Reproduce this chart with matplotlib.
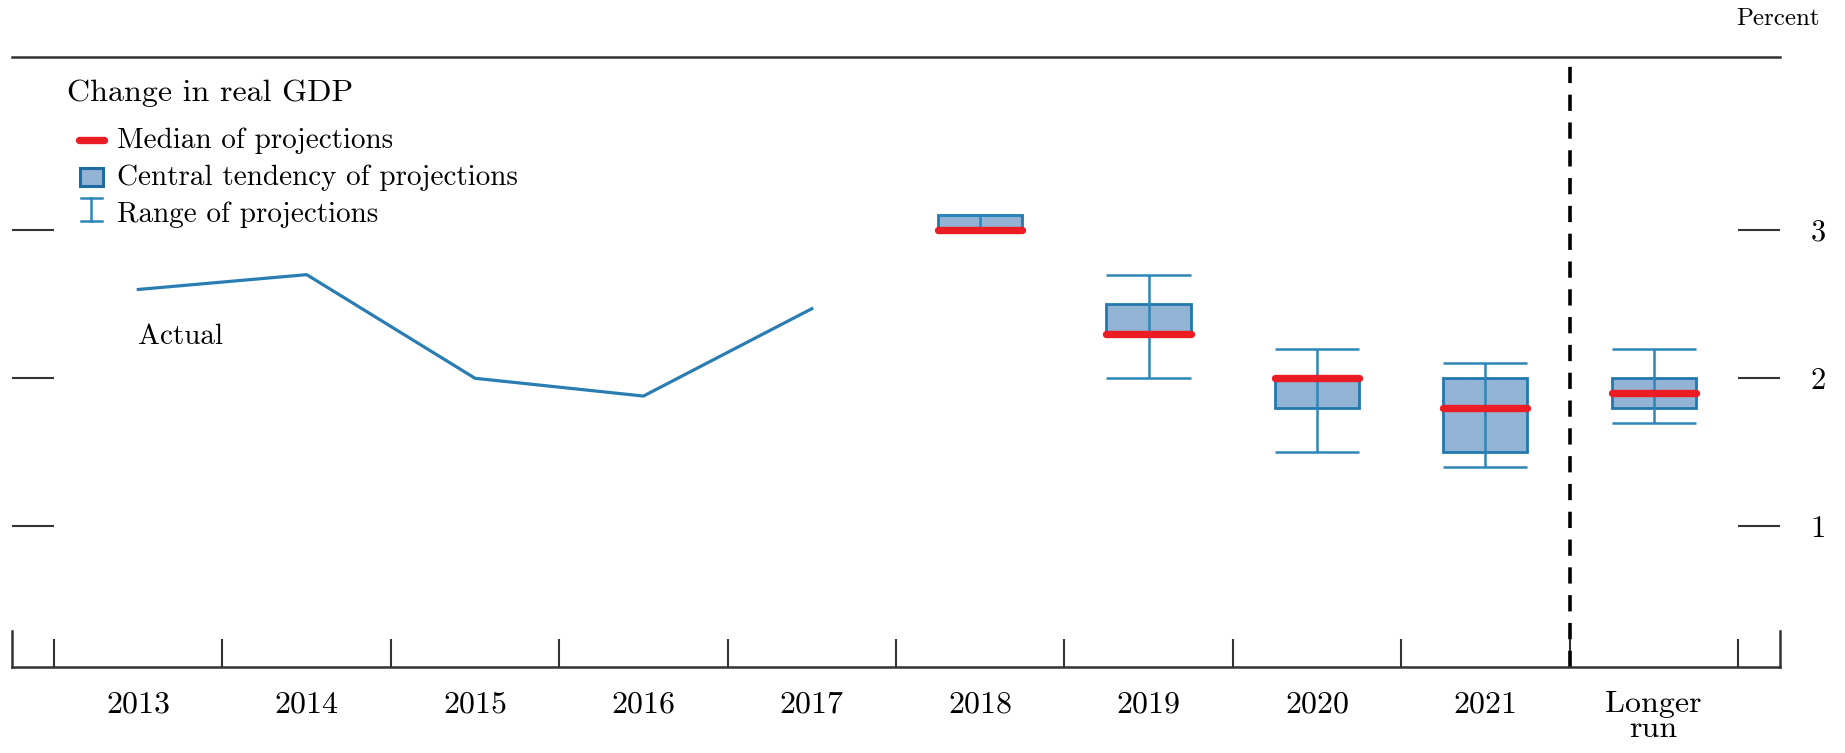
import numpy as np
import matplotlib
matplotlib.use('Agg')
import matplotlib.pyplot as plt
from matplotlib.patches import Rectangle
from matplotlib.lines import Line2D

# Computer Modern look (cmr10 ships with matplotlib)
plt.rcParams['font.family'] = ['cmr10', 'DejaVu Serif']
plt.rcParams['axes.formatter.use_mathtext'] = True

# Data
categories = ['2013', '2014', '2015', '2016', '2017', '2018', '2019', '2020', '2021', 'Longer\nrun']
actual_years = ['2013', '2014', '2015', '2016', '2017']
actual_values = [2.6, 2.7, 2.0, 1.88, 2.47]

proj_labels = ['2018', '2019', '2020', '2021', 'Longer\nrun']
median = [3.0, 2.3, 2.0, 1.8, 1.9]
central_low = [3.0, 2.3, 1.8, 1.5, 1.8]
central_high = [3.1, 2.5, 2.0, 2.0, 2.0]
range_low = [3.0, 2.0, 1.5, 1.4, 1.7]
range_high = [3.1, 2.7, 2.2, 2.1, 2.2]

ytick_values = [1, 2, 3]

# Colors
line_color = '#2a7db2'
box_fill = '#93b3d5'
box_edge = '#2378ae'
whisker_color = '#2a86bb'
median_color = '#ec1c24'
axis_color = '#333333'

W, H = 1845, 753
fig = plt.figure(figsize=(W / 100, H / 100), dpi=100)
ax_left, ax_right, ax_top, ax_bottom = 12, 1780, 57, 667
ax = fig.add_axes([ax_left / W, 1 - ax_bottom / H, (ax_right - ax_left) / W, (ax_bottom - ax_top) / H])

xpos = {c: i for i, c in enumerate(categories)}
box_w = 0.5

# Actual line
ax.plot([xpos[c] for c in actual_years], actual_values, color=line_color, lw=2.3, zorder=3)
ax.text(xpos['2013'], 2.23, 'Actual', fontsize=21, ha='left', va='baseline')

# Projections
for i, lab in enumerate(proj_labels):
    x = xpos[lab]
    ax.add_patch(Rectangle((x - box_w / 2, central_low[i]), box_w, central_high[i] - central_low[i],
                           facecolor=box_fill, edgecolor=box_edge, lw=2.0, zorder=3))
    ax.vlines(x, range_low[i], range_high[i], color=whisker_color, lw=1.8, zorder=4)
    ax.hlines([range_low[i], range_high[i]], x - box_w / 2, x + box_w / 2, color=whisker_color, lw=1.8, zorder=4)
    ax.plot([x - box_w / 2, x + box_w / 2], [median[i], median[i]], color=median_color, lw=5.3,
            solid_capstyle='round', zorder=5)

# Divider before longer run
ax.axvline(xpos['Longer\nrun'] - 0.5, color='black', lw=2.6, linestyle=(0, (4.5, 3.2)), zorder=2)

ax.set_xlim(-0.75, len(categories) - 0.25)
ax.set_ylim(0.05, 4.17)

# Axes styling
for side in ['left', 'right']:
    ax.spines[side].set_visible(False)
for side in ['top', 'bottom']:
    ax.spines[side].set_color(axis_color)
    ax.spines[side].set_linewidth(1.8)

ax.set_yticks(ytick_values)
ax.set_yticklabels([str(v) for v in ytick_values])
ax.tick_params(axis='y', which='major', direction='in', length=30, width=1.5, color=axis_color,
               left=True, right=True, labelleft=False, labelright=True, pad=22, labelsize=22)

ax.set_xticks(range(len(categories)))
ax.set_xticklabels(categories)
ax.set_xticks(np.arange(-0.5, len(categories), 1), minor=True)
ax.tick_params(axis='x', which='major', length=0, pad=17, labelsize=23)
ax.tick_params(axis='x', which='minor', direction='in', length=20, width=1.5, color=axis_color)
for t in ax.get_xticklabels():
    t.set_linespacing(0.9)

# short end posts at both sides of the bottom axis
xl = ax.get_xlim()
for xe in xl:
    ax.axvline(xe, ymin=0, ymax=36 / 610, color=axis_color, lw=1.8, clip_on=False)

# Legend (drawn by hand in axes coordinates)
def fx(px):
    return (px - ax_left) / (ax_right - ax_left)

def fy(py):
    return (ax_bottom - py) / (ax_bottom - ax_top)

ax.text(fx(67), fy(101), 'Change in real GDP', transform=ax.transAxes, fontsize=23, va='baseline')
legend_labels = ['Median of projections', 'Central tendency of projections', 'Range of projections']
baselines = [148, 185, 222]
for lab, b in zip(legend_labels, baselines):
    ax.text(fx(117), fy(b), lab, transform=ax.transAxes, fontsize=21, va='baseline')

ax.add_line(Line2D([fx(79), fx(104)], [fy(140), fy(140)], transform=ax.transAxes,
                   color=median_color, lw=5.3, solid_capstyle='round'))
ax.add_patch(Rectangle((fx(80), fy(186)), fx(103) - fx(80), fy(168) - fy(186), transform=ax.transAxes,
                       facecolor=box_fill, edgecolor='#1f6aa0', lw=2.2))
ax.add_line(Line2D([fx(91.5), fx(91.5)], [fy(198), fy(221)], transform=ax.transAxes, color=whisker_color, lw=1.8))
for yy in [198, 221]:
    ax.add_line(Line2D([fx(81), fx(102)], [fy(yy), fy(yy)], transform=ax.transAxes, color=whisker_color, lw=1.8))

fig.text(1820 / W, 1 - 25 / H, 'Percent', fontsize=18, ha='right', va='baseline')

fig.savefig('out.png', dpi=100)
